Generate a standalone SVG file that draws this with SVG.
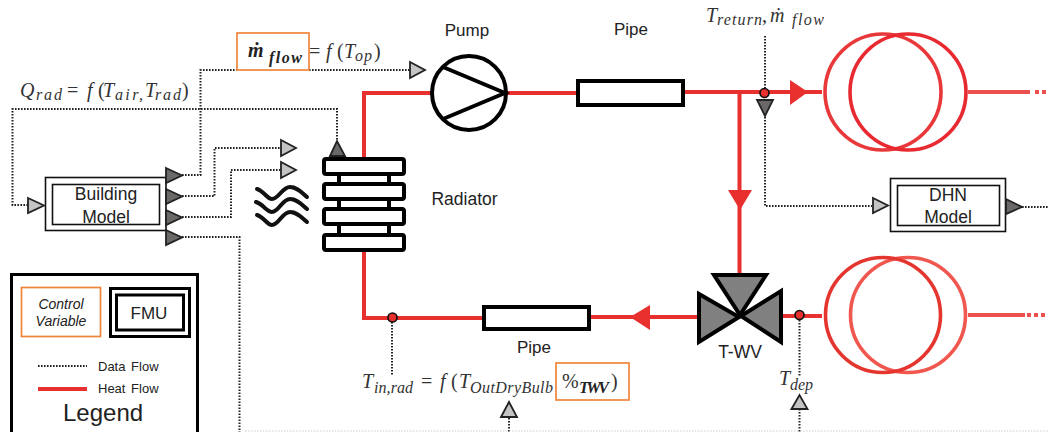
<svg xmlns="http://www.w3.org/2000/svg" width="1049" height="432" viewBox="0 0 1049 432">
<style>
text{font-family:"Liberation Sans",Arial,sans-serif;fill:#222}
.m{font-family:"Liberation Serif","Times New Roman",serif;font-style:italic;font-size:20px;fill:#333}
.u{font-style:normal}
.s{font-size:16px}
.b{font-weight:bold;fill:#222}
.data{fill:none;stroke:#222;stroke-width:2;stroke-dasharray:1.6 1.4}
.heat{fill:none;stroke:#e8312f;stroke-width:4}
.hf{fill:#e8312f}
.box{fill:#fff;stroke:#111;stroke-width:1.6}
.blk{fill:#fff;stroke:#000;stroke-width:4}
.in{fill:#c4c4c4;stroke:#222;stroke-width:1.8}
.out{fill:#6b6868;stroke:#222;stroke-width:1.8}
.or{fill:none;stroke:#f0853a;stroke-width:1.7}
.val{fill:#808080;stroke:#000;stroke-width:4}
.sen{fill:#e8312f;stroke:#111;stroke-width:1.7}
.c{fill:none;stroke-width:3.6}
</style>
<g id="connectors">
<path class="heat" d="M431 93H364V158M364 250V318H483M590 317H698M781 316H822M507 93H577M684 92H822M739.500 92V275"/>
<path class="heat" d="M968 92H1030" stroke-opacity=".85"/>
<path class="heat" d="M1035 92H1047" stroke-dasharray="4 3" stroke-opacity=".85"/>
<path class="heat" d="M968 315H1025" stroke-opacity=".85"/>
<path class="heat" d="M1027 315H1047" stroke-dasharray="4 3" stroke-opacity=".85"/>
<path class="hf" d="M790 80 808 92 790 105ZM728 190H752L740 210ZM650 305V330L630 317Z"/>
<path class="data" d="M182 175H200.500V70H237M309 70H410"/>
<path class="data" d="M28 205H12.500V109H337V141"/>
<path class="data" d="M182 196H214.500V148H281"/>
<path class="data" d="M182 217H231V170H281"/>
<path class="data" d="M182 237H239.500V432"/>
<path class="data" d="M765 36V206H872"/>
<path class="data" d="M1022 207H1049"/>
<path class="data" d="M392 322V376"/>
<path class="data" d="M799.500 320V376"/>
<path class="data" d="M509 418V432M799.500 409V432"/>
<path d="M245 431H1049" fill="none" stroke="#ccc" stroke-width="1" stroke-dasharray="1.500 1.500"/>
<path class="in" d="M410 62 425 70 410 78ZM281 140 296 148 281 156ZM281 162 296 170 281 178Z"/>
<path class="out" d="M330 156 337 141 345 156Z"/>
</g>
<g id="building-model">
<rect class="box" x="45.500" y="177.500" width="120.500" height="53"/>
<rect class="box" x="52.500" y="184.500" width="107" height="40"/>
<text x="106" y="200" font-size="17.500" text-anchor="middle">Building</text>
<text x="106" y="223" font-size="17.500" text-anchor="middle">Model</text>
<path class="in" d="M28 198 44 205.500 28 213Z"/>
<path class="out" d="M166 168 182 175.500 166 183ZM166 189 182 196.500 166 204ZM166 210 182 217.500 166 225ZM166 230 182 237.500 166 245Z"/>
</g>
<g id="air-waves" fill="none" stroke="#111" stroke-width="4" stroke-linecap="round">
<path d="M257 189C264 191 267 199 272 199C279 199 282 187 290 187C297 187 301 192 307 197"/>
<path d="M256 202C263 204 267 212 272 212C279 212 282 199 290 199C297 199 301 204 307 209"/>
<path d="M257 215C264 217 267 225 272 225C279 225 282 212 290 212C297 212 301 217 307 222"/>
</g>
<g id="radiator">
<path d="M339 172V236M389 172V236" stroke="#000" stroke-width="4" fill="none"/>
<rect class="blk" x="324" y="159" width="80" height="15" rx="2"/>
<rect class="blk" x="324" y="184" width="80" height="15" rx="2"/>
<rect class="blk" x="324" y="209" width="80" height="15" rx="2"/>
<rect class="blk" x="324" y="235" width="80" height="15" rx="2"/>
<text x="464.500" y="205" font-size="17.500" text-anchor="middle">Radiator</text>
</g>
<g id="pump">
<circle cx="469" cy="93" r="37" fill="#fff" stroke="#000" stroke-width="4"/>
<path d="M443 67 505 93 443 119" fill="none" stroke="#000" stroke-width="4"/>
<text x="467" y="36" font-size="17" text-anchor="middle">Pump</text>
</g>
<g id="pipe-top">
<rect class="blk" x="578" y="81" width="105" height="24"/>
<text x="631" y="35" font-size="17" text-anchor="middle">Pipe</text>
</g>
<g id="pipe-bottom">
<rect class="blk" x="484" y="307" width="105" height="22"/>
<text x="534" y="353" font-size="17" text-anchor="middle">Pipe</text>
</g>
<g id="sensor-top">
<path class="out" d="M757 100H773L765 116Z"/>
<circle class="sen" cx="764.500" cy="93" r="4.500"/>
</g>
<g id="sensor-bottom-left"><circle class="sen" cx="392.500" cy="317.500" r="4.500"/></g>
<g id="sensor-bottom-right"><circle class="sen" cx="799.500" cy="315" r="4.500"/></g>
<g id="hx-top">
<circle class="c" cx="883" cy="92" r="58" stroke="#e8383a"/>
<circle class="c" cx="908" cy="92" r="58" stroke="#e82a30"/>
</g>
<g id="hx-bottom">
<circle class="c" cx="908" cy="315" r="57.500" stroke="#f0574f"/>
<circle class="c" cx="883" cy="315" r="57.500" stroke="#e5352f"/>
</g>
<g id="dhn-model">
<rect class="box" x="890.500" y="178.500" width="115" height="53"/>
<rect class="box" x="897.500" y="185.500" width="102" height="40"/>
<text x="948" y="201" font-size="17.500" text-anchor="middle">DHN</text>
<text x="948" y="223" font-size="17.500" text-anchor="middle">Model</text>
<path class="in" d="M873 198 888 205.500 873 213Z"/>
<path class="out" d="M1006 199 1022 207 1006 214Z"/>
</g>
<g id="t-wv">
<path class="val" d="M714 275H766L740 315Z"/>
<path class="val" d="M699 294V342L739 317Z"/>
<path class="val" d="M781 291V342L741 316Z"/>
<text x="740" y="358" font-size="17.500" text-anchor="middle">T-WV</text>
</g>
<g id="labels">
<rect class="or" x="237" y="33" width="72" height="37"/>
<text class="m b" x="248" y="57" font-size="22">ṁ</text>
<text class="m b s" x="269" y="63" textLength="33">flow</text>
<text class="m u" x="309" y="58">=</text>
<text class="m" x="326" y="58">f</text>
<text class="m u" x="337" y="58">(</text>
<text class="m" x="344" y="58">T</text>
<text class="m s" x="355" y="61" textLength="17">op</text>
<text class="m u" x="374" y="58">)</text>
<text class="m" x="20" y="97">Q</text>
<text class="m s" x="36" y="100" textLength="26">rad</text>
<text class="m u" x="67" y="97">=</text>
<text class="m" x="87" y="97">f</text>
<text class="m u" x="98" y="97">(</text>
<text class="m" x="103" y="97">T</text>
<text class="m s" x="115" y="100" textLength="28">air,</text>
<text class="m" x="145" y="97">T</text>
<text class="m s" x="155" y="100" textLength="26">rad</text>
<text class="m u" x="182" y="97">)</text>
<text class="m" x="706" y="22">T</text>
<text class="m s" x="717" y="25" textLength="45">return</text>
<text class="m u" x="762" y="22">,</text>
<text class="m" x="770" y="22" font-size="22">ṁ</text>
<text class="m s" x="792" y="25" textLength="32">flow</text>
<text class="m" x="362" y="388">T</text>
<text class="m s" x="374" y="393" textLength="39">in,rad</text>
<text class="m u" x="421" y="388">=</text>
<text class="m" x="440" y="388">f</text>
<text class="m u" x="451" y="388">(</text>
<text class="m" x="459" y="388">T</text>
<text class="m s" x="470" y="393" textLength="83">OutDryBulb</text>
<rect class="or" x="556" y="363" width="73" height="37"/>
<text class="m u" x="562" y="388">%</text>
<text class="m b s" x="579" y="393" textLength="30">TWV</text>
<text class="m u" x="611" y="388">)</text>
<text class="m" x="779" y="385">T</text>
<text class="m s" x="790" y="390" textLength="23">dep</text>
<path class="in" d="M501 417 509 402 517 417Z"/>
<path class="in" d="M791.500 409 799.500 395 807.500 409Z"/>
</g>
<g id="legend">
<path d="M11.500 432V274.500H197.500V432" fill="#fff" stroke="#000" stroke-width="3"/>
<rect class="or" x="21.500" y="287.500" width="79" height="49"/>
<text x="61" y="309" font-size="14" font-style="italic" text-anchor="middle">Control</text>
<text x="61" y="326" font-size="14" font-style="italic" text-anchor="middle">Variable</text>
<rect x="110.500" y="288.500" width="79" height="48" fill="#fff" stroke="#000" stroke-width="3"/>
<rect x="116.500" y="295" width="67" height="35" fill="#fff" stroke="#000" stroke-width="3"/>
<text x="149" y="319" font-size="17" text-anchor="middle">FMU</text>
<path class="data" d="M38 366H87"/>
<path d="M38 389H87" stroke="#e8312f" stroke-width="4" fill="none"/>
<text x="98" y="371" font-size="13" word-spacing="2">Data Flow</text>
<text x="98" y="393" font-size="13" word-spacing="2">Heat Flow</text>
<text x="63" y="421" font-size="24">Legend</text>
</g>
</svg>
